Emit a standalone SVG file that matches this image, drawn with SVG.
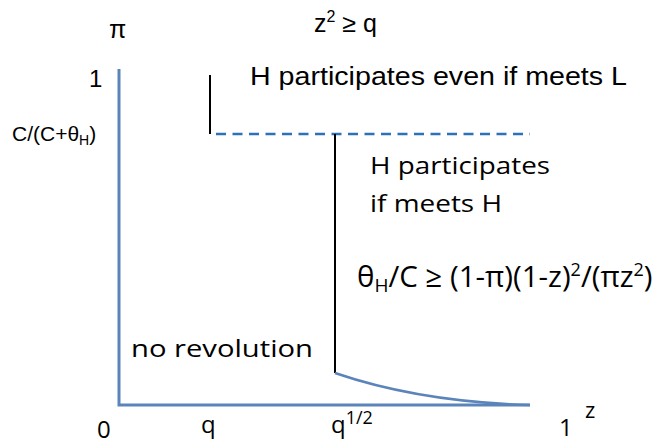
<svg xmlns="http://www.w3.org/2000/svg" width="660" height="444" viewBox="0 0 660 444">
<style>
.ar{font-family:"Liberation Sans",Arial,sans-serif;fill:#000}
.ca{font-family:"Open Sans","Noto Sans",sans-serif;fill:#000}
.axis{fill:none;stroke:#5b84ba;stroke-width:3}
.blk{fill:none;stroke:#000;stroke-width:2}
.dash{fill:none;stroke:#2c72b8;stroke-width:2.5;stroke-dasharray:10 6.5}
</style>
<rect width="660" height="444" fill="#fff"/>
<g id="axes">
<path class="axis" d="M119,69 V405 H530"/>
</g>
<g id="connectors">
<path class="blk" d="M210,75 V134"/>
<path class="dash" d="M216,134 H530"/>
<path class="blk" d="M335,134 V373"/>
<path fill="none" stroke="#5b84ba" stroke-width="2.5" d="M335,373 Q420,402 530,405"/>
</g>
<g id="labels">
<text class="ar" x="109" y="38" font-size="25">π</text>
<text class="ar" x="314" y="32" font-size="25">z<tspan font-size="16" dy="-10">2</tspan><tspan dy="10"> ≥ q</tspan></text>
<text class="ar" x="89" y="87" font-size="24">1</text>
<text class="ar" x="250" y="85" font-size="25" textLength="377" lengthAdjust="spacingAndGlyphs">H participates even if meets L</text>
<text class="ar" x="12" y="141" font-size="21">C/(C+θ<tspan font-size="14" dy="4">H</tspan><tspan dy="-4">)</tspan></text>
<text class="ca" x="370" y="174" font-size="24" textLength="180" lengthAdjust="spacingAndGlyphs">H participates</text>
<text class="ca" x="370" y="212" font-size="24" textLength="132" lengthAdjust="spacingAndGlyphs">if meets H</text>
<text class="ca" x="357" y="287" font-size="29.5">θ<tspan font-size="19" dy="5">H</tspan><tspan dy="-5">/C ≥ (1-π)(1-z)</tspan><tspan font-size="18" dy="-11">2</tspan><tspan dy="11">/(πz</tspan><tspan font-size="18" dy="-11">2</tspan><tspan dy="11">)</tspan></text>
<text class="ca" x="131" y="357" font-size="24" textLength="182" lengthAdjust="spacingAndGlyphs">no revolution</text>
<text class="ca" x="97" y="438" font-size="24">0</text>
<text class="ca" x="201" y="433" font-size="24">q</text>
<text class="ca" x="331" y="433" font-size="24">q<tspan font-size="18" dy="-9">1/2</tspan></text>
<text class="ca" x="559" y="436" font-size="24">1</text>
<text class="ca" x="585" y="418" font-size="22">z</text>
</g>
</svg>
